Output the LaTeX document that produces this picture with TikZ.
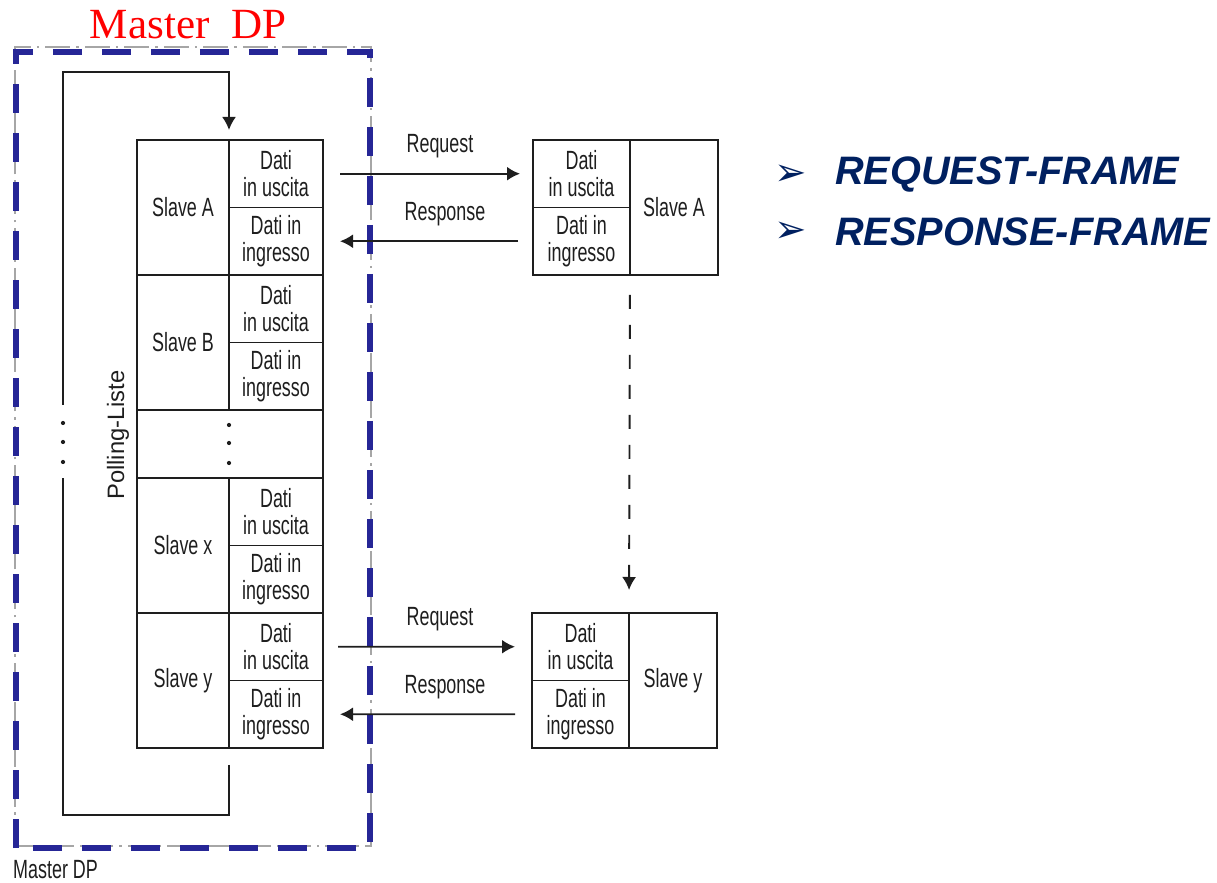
\documentclass[tikz,border=0pt]{standalone}
\usepackage{fontspec}
\usetikzlibrary{arrows.meta,positioning}
\newfontfamily\condsf[FakeStretch=0.68]{Liberation Sans}
\newfontfamily\plainsf{Liberation Sans}
\newfontfamily\titlefont{Liberation Serif}
\newfontfamily\symfont{DejaVu Sans}
\definecolor{dpblue}{RGB}{38,38,150}
\definecolor{framenavy}{RGB}{0,32,96}
\definecolor{inkgray}{RGB}{30,30,30}

\tikzset{
  cell/.style={draw=inkgray,line width=1pt,inner sep=0pt,outer sep=0pt,align=center,
    text=inkgray,font=\condsf\fontsize{15}{15}\selectfont},
  namecell/.style={cell,minimum width=1.84cm,minimum height=2.70cm},
  datacell/.style={cell,minimum width=1.88cm,minimum height=1.35cm},
  slaveleft/.style={cell,minimum width=1.94cm,minimum height=1.35cm},
  slaveright/.style={cell,minimum width=1.76cm,minimum height=2.70cm},
  msg/.style={inkgray,line width=1.1pt,-{Latex[length=0.26cm,width=0.28cm]}},
  msglabel/.style={text=inkgray,font=\condsf\fontsize{15}{15}\selectfont},
  loopline/.style={inkgray,line width=1.1pt},
  framebullet/.style={text=framenavy,font=\symfont\fontsize{22}{22}\selectfont},
  frametext/.style={text=framenavy,anchor=west,font=\plainsf\bfseries\itshape\fontsize{22.6}{22.6}\selectfont}
}

\begin{document}
\begin{tikzpicture}
\useasboundingbox (0,0) rectangle (24.34,17.64);

% Master DP frame
\draw[gray!70,line width=0.6pt,dash pattern=on 0.5cm off 0.12cm on 0.05cm off 0.12cm] (0.30,0.72) rectangle (7.42,16.70);
\draw[dpblue,line width=3.4pt,dash pattern=on 0.58cm off 0.40cm] (0.32,0.68) rectangle (7.40,16.60);
\node[text=red,font=\titlefont\fontsize{24.5}{24.5}\selectfont] (title) at (3.76,17.14) {Master\ \ DP};
\node[anchor=west,text=inkgray,font=\condsf\fontsize{15}{15}\selectfont] (mastersmall) at (0.14,0.24) {Master DP};

% polling list
\node[namecell,anchor=north west] (mA) at (2.74,14.84) {Slave A};
\node[datacell,anchor=north west] (mAout) at (mA.north east) {Dati\\in uscita};
\node[datacell,below=0pt of mAout] (mAin) {Dati in\\ingresso};
\node[namecell,below=0pt of mA] (mB) {Slave B};
\node[datacell,anchor=north west] (mBout) at (mB.north east) {Dati\\in uscita};
\node[datacell,below=0pt of mBout] (mBin) {Dati in\\ingresso};
\node[cell,minimum width=3.72cm,minimum height=1.36cm,anchor=north west] (mdots) at (mB.south west) {};
\node[namecell,anchor=north west] (mX) at (mdots.south west) {Slave x};
\node[datacell,anchor=north west] (mXout) at (mX.north east) {Dati\\in uscita};
\node[datacell,below=0pt of mXout] (mXin) {Dati in\\ingresso};
\node[namecell,below=0pt of mX] (mY) {Slave y};
\node[datacell,anchor=north west] (mYout) at (mY.north east) {Dati\\in uscita};
\node[datacell,below=0pt of mYout] (mYin) {Dati in\\ingresso};
\foreach \y in {9.14,8.78,8.38} \fill[inkgray] (4.58,\y) circle (1.2pt);
\node[rotate=90,text=inkgray,font=\plainsf\fontsize{13.5}{13.5}\selectfont] (poll) at (2.36,8.94) {Polling-Liste};

% polling loop
\coordinate (loopin) at ([yshift=0.2cm]mAout.north west);
\coordinate (loopout) at ([yshift=-0.34cm]mYin.south west);
\coordinate (gapbot) at (1.26,8.08);
\coordinate (gaptop) at (1.26,9.54);
\draw[loopline] (loopout) |- (1.26,1.34) -- (gapbot);
\draw[loopline,-{Latex[length=0.26cm,width=0.28cm]}] (gaptop) |- (4.58,16.20) -- (loopin);
\foreach \y in {9.18,8.80,8.40} \fill[inkgray] (1.26,\y) circle (1.2pt);

% slave A
\node[slaveleft,anchor=north west] (sAout) at (10.66,14.84) {Dati\\in uscita};
\node[slaveleft,below=0pt of sAout] (sAin) {Dati in\\ingresso};
\node[slaveright,anchor=north west] (sA) at (sAout.north east) {Slave A};

% slave y
\node[slaveleft,anchor=north west] (sYout) at (10.64,5.38) {Dati\\in uscita};
\node[slaveleft,below=0pt of sYout] (sYin) {Dati in\\ingresso};
\node[slaveright,anchor=north west] (sY) at (sYout.north east) {Slave y};

% request / response
\draw[msg] ([xshift=0.34cm]mAout.east) -- ([xshift=-0.26cm]sAout.west)
  node[msglabel,midway,yshift=0.56cm,xshift=0.2cm] {Request};
\draw[msg] ([xshift=-0.30cm]sAin.west) -- ([xshift=0.34cm]mAin.east)
  node[msglabel,midway,yshift=0.54cm,xshift=0.32cm] {Response};
\draw[msg] ([xshift=0.30cm]mYout.east) -- ([xshift=-0.34cm]sYout.west)
  node[msglabel,midway,yshift=0.56cm,xshift=0.27cm] {Request};
\draw[msg] ([xshift=-0.34cm]sYin.west) -- ([xshift=0.34cm]mYin.east)
  node[msglabel,midway,yshift=0.54cm,xshift=0.35cm] {Response};
\draw[msg,dash pattern=on 0.28cm off 0.32cm,shorten <=0.4cm,shorten >=0.46cm] (sAin.south east) -- (sYout.north east);

% frame types
\node[framebullet] (b1) at (15.82,14.14) {➢};
\node[frametext] (t1) at (16.58,14.14) {REQUEST-FRAME};
\node[framebullet] (b2) at (15.82,13.00) {➢};
\node[frametext] (t2) at (16.58,13.00) {RESPONSE-FRAME};
\end{tikzpicture}
\end{document}
